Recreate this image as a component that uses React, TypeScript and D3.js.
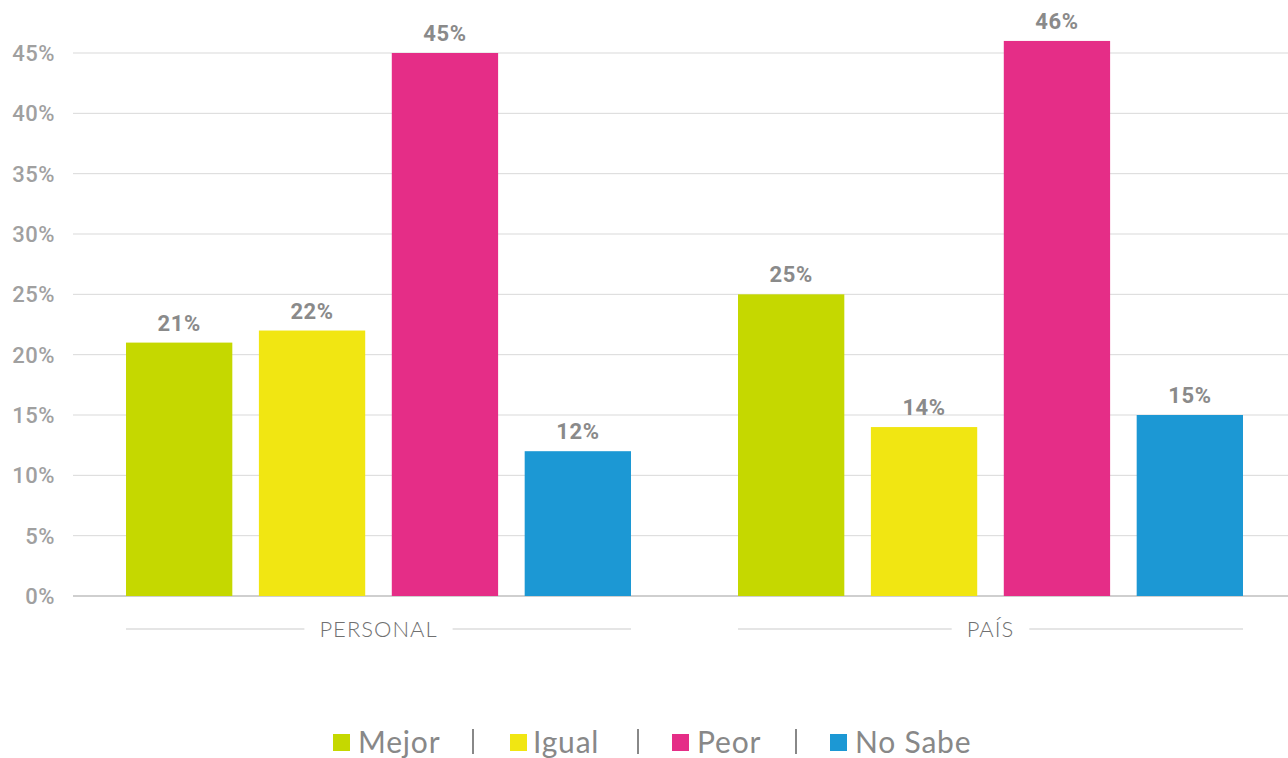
import React from "react";
import * as d3 from "d3";

const groups = ["PERSONAL", "PAÍS"];
const seriesNames = ["Mejor", "Igual", "Peor", "No Sabe"];
const seriesColors = ["#c5d800", "#f1e612", "#e52d87", "#1c98d4"];
const personalValues = [21, 22, 45, 12];
const paisValues = [25, 14, 46, 15];
const yTicks = [0, 5, 10, 15, 20, 25, 30, 35, 40, 45];

const values = [personalValues, paisValues];

export default function App() {
  const W = 1288, H = 758;
  const y = d3.scaleLinear().domain([0, 45]).range([596, 53]);
  const x0 = d3.scaleBand<string>().domain(groups).range([72.5, 1296.5]).paddingInner(0);
  const x1 = d3.scaleBand<string>().domain(seriesNames).range([53.5, 558.5]).paddingInner(0.2);

  const labelRefs = React.useRef<(SVGTextElement | null)[]>([]);
  const [halfGaps, setHalfGaps] = React.useState<number[]>([77, 46]);
  React.useLayoutEffect(() => {
    const g = labelRefs.current.map((el) => (el ? el.getComputedTextLength() / 2 + 15 : 60));
    setHalfGaps(g);
  }, []);

  const legendItems = [
    { sq: 333, tx: 358 },
    { sq: 510, tx: 533 },
    { sq: 672, tx: 697 },
    { sq: 830, tx: 855 },
  ];
  const seps = [473, 638, 796];

  return (
    <svg width={W} height={H} style={{ position: "absolute", left: 0, top: 0 }}>
      <rect width={W} height={H} fill="#fff" />
      {yTicks.map((t) => (
        <g key={t}>
          <line x1={73} x2={W} y1={y(t)} y2={y(t)} stroke={t === 0 ? "#cfcfcf" : "#d9d9d9"} strokeWidth={t === 0 ? 2 : 1} />
          <text x={55} y={y(t)} dy="0.36em" textAnchor="end" fontFamily="Roboto, 'DejaVu Sans'" fontWeight={500} fontSize={22} letterSpacing={0.5} fill="#a0a0a0">
            {t}%
          </text>
        </g>
      ))}
      {groups.map((g, gi) => {
        const gx = x0(g)!;
        const left = gx + 53.5;
        const right = gx + 558.5;
        const cx = (left + right) / 2;
        return (
          <g key={g}>
            {seriesNames.map((s, si) => {
              const v = values[gi][si];
              const bx = gx + x1(s)!;
              return (
                <g key={s}>
                  <rect x={bx} y={y(v)} width={x1.bandwidth()} height={y(0) - y(v)} fill={seriesColors[si]} />
                  <text x={bx + x1.bandwidth() / 2} y={y(v) - 12} textAnchor="middle" fontFamily="Roboto, 'DejaVu Sans'" fontWeight={700} fontSize={22} letterSpacing={0.6} fill="#8a8a8a">
                    {v}%
                  </text>
                </g>
              );
            })}
            <line x1={left} x2={cx - halfGaps[gi]} y1={629} y2={629} stroke="#cccccc" strokeWidth={1.2} />
            <line x1={cx + halfGaps[gi]} x2={right} y1={629} y2={629} stroke="#cccccc" strokeWidth={1.2} />
            <text
              ref={(el) => { labelRefs.current[gi] = el; }}
              x={cx}
              y={637}
              textAnchor="middle"
              fontFamily="Lato, 'Open Sans'"
              fontWeight={300}
              fontSize={22}
              letterSpacing={1}
              fill="#707070"
            >
              {g}
            </text>
          </g>
        );
      })}
      {seriesNames.map((s, i) => (
        <g key={s}>
          <rect x={legendItems[i].sq} y={734} width={17} height={17} fill={seriesColors[i]} />
          <text x={legendItems[i].tx} y={753} fontFamily="Lato, 'Open Sans'" fontWeight={400} fontSize={30} letterSpacing={0.8} fill="#888888">
            {s}
          </text>
        </g>
      ))}
      {seps.map((sx) => (
        <line key={sx} x1={sx} x2={sx} y1={729} y2={754} stroke="#888888" strokeWidth={2} />
      ))}
    </svg>
  );
}
